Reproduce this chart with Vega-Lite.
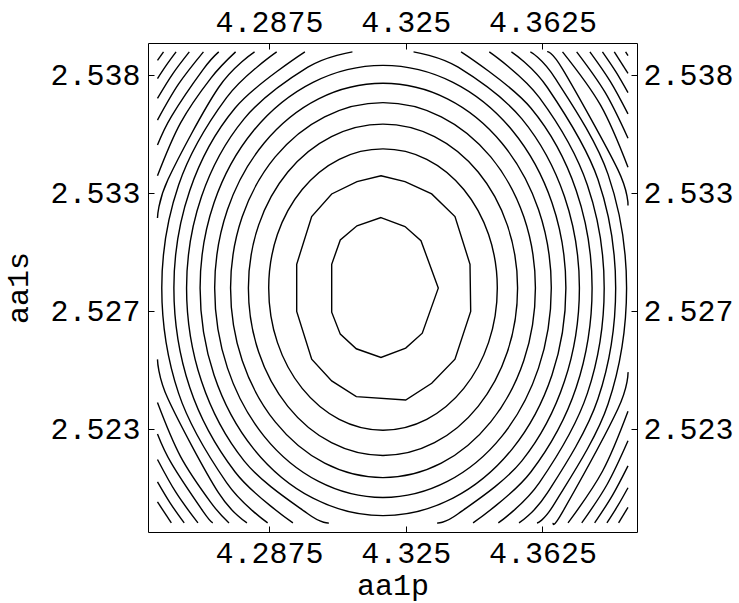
{
  "$schema": "https://vega.github.io/schema/vega-lite/v6.json",
  "width": 489,
  "height": 489,
  "autosize": {"type": "none"},
  "padding": {"left": 148, "top": 43, "right": 102, "bottom": 71},
  "background": "white",
  "config": {
    "view": {"stroke": "black", "strokeWidth": 1},
    "axis": {
      "labelFont": "Liberation Mono",
      "labelFontSize": 30,
      "labelColor": "black",
      "titleFont": "Liberation Mono",
      "titleFontSize": 30,
      "titleFontWeight": "normal",
      "titleColor": "black",
      "tickColor": "black",
      "tickSize": -6,
      "tickWidth": 1,
      "domain": false,
      "grid": false,
      "labelFlush": false,
      "labelOverlap": false
    }
  },
  "datasets": {
    "inner": [
      {"c": "k1", "i": 0, "x": 4.31822, "y": 2.53196},
      {"c": "k1", "i": 1, "x": 4.32481, "y": 2.53158},
      {"c": "k1", "i": 2, "x": 4.32919, "y": 2.53098},
      {"c": "k1", "i": 3, "x": 4.33394, "y": 2.52897},
      {"c": "k1", "i": 4, "x": 4.32955, "y": 2.52706},
      {"c": "k1", "i": 5, "x": 4.32500, "y": 2.52643},
      {"c": "k1", "i": 6, "x": 4.31822, "y": 2.52603},
      {"c": "k1", "i": 7, "x": 4.31145, "y": 2.52640},
      {"c": "k1", "i": 8, "x": 4.30706, "y": 2.52702},
      {"c": "k1", "i": 9, "x": 4.30470, "y": 2.52795},
      {"c": "k1", "i": 10, "x": 4.30470, "y": 2.52998},
      {"c": "k1", "i": 11, "x": 4.30706, "y": 2.53101},
      {"c": "k1", "i": 12, "x": 4.31164, "y": 2.53161},
      {"c": "k2", "i": 0, "x": 4.31822, "y": 2.53373},
      {"c": "k2", "i": 1, "x": 4.32481, "y": 2.53348},
      {"c": "k2", "i": 2, "x": 4.33213, "y": 2.53296},
      {"c": "k2", "i": 3, "x": 4.33852, "y": 2.53200},
      {"c": "k2", "i": 4, "x": 4.34264, "y": 2.52998},
      {"c": "k2", "i": 5, "x": 4.34283, "y": 2.52798},
      {"c": "k2", "i": 6, "x": 4.33852, "y": 2.52596},
      {"c": "k2", "i": 7, "x": 4.33213, "y": 2.52494},
      {"c": "k2", "i": 8, "x": 4.32500, "y": 2.52423},
      {"c": "k2", "i": 9, "x": 4.31145, "y": 2.52437},
      {"c": "k2", "i": 10, "x": 4.30470, "y": 2.52504},
      {"c": "k2", "i": 11, "x": 4.29921, "y": 2.52596},
      {"c": "k2", "i": 12, "x": 4.29510, "y": 2.52798},
      {"c": "k2", "i": 13, "x": 4.29510, "y": 2.52998},
      {"c": "k2", "i": 14, "x": 4.29921, "y": 2.53200},
      {"c": "k2", "i": 15, "x": 4.30470, "y": 2.53296},
      {"c": "k2", "i": 16, "x": 4.31164, "y": 2.53348}
    ],
    "rings": [
      {"c": "k3", "i": 0, "x": 4.35013, "y": 2.52898},
      {"c": "k3", "i": 1, "x": 4.34774, "y": 2.53124},
      {"c": "k3", "i": 2, "x": 4.34094, "y": 2.53315},
      {"c": "k3", "i": 3, "x": 4.33077, "y": 2.53443},
      {"c": "k3", "i": 4, "x": 4.31877, "y": 2.53487},
      {"c": "k3", "i": 5, "x": 4.30677, "y": 2.53443},
      {"c": "k3", "i": 6, "x": 4.29660, "y": 2.53315},
      {"c": "k3", "i": 7, "x": 4.28980, "y": 2.53124},
      {"c": "k3", "i": 8, "x": 4.28742, "y": 2.52898},
      {"c": "k3", "i": 9, "x": 4.28980, "y": 2.52667},
      {"c": "k3", "i": 10, "x": 4.29660, "y": 2.52472},
      {"c": "k3", "i": 11, "x": 4.30677, "y": 2.52341},
      {"c": "k3", "i": 12, "x": 4.31877, "y": 2.52295},
      {"c": "k3", "i": 13, "x": 4.33077, "y": 2.52341},
      {"c": "k3", "i": 14, "x": 4.34094, "y": 2.52472},
      {"c": "k3", "i": 15, "x": 4.34774, "y": 2.52667},
      {"c": "k4", "i": 0, "x": 4.35569, "y": 2.52898},
      {"c": "k4", "i": 1, "x": 4.35288, "y": 2.53164},
      {"c": "k4", "i": 2, "x": 4.34488, "y": 2.53389},
      {"c": "k4", "i": 3, "x": 4.33290, "y": 2.53539},
      {"c": "k4", "i": 4, "x": 4.31877, "y": 2.53592},
      {"c": "k4", "i": 5, "x": 4.30464, "y": 2.53539},
      {"c": "k4", "i": 6, "x": 4.29266, "y": 2.53389},
      {"c": "k4", "i": 7, "x": 4.28466, "y": 2.53164},
      {"c": "k4", "i": 8, "x": 4.28185, "y": 2.52898},
      {"c": "k4", "i": 9, "x": 4.28466, "y": 2.52626},
      {"c": "k4", "i": 10, "x": 4.29266, "y": 2.52396},
      {"c": "k4", "i": 11, "x": 4.30464, "y": 2.52242},
      {"c": "k4", "i": 12, "x": 4.31877, "y": 2.52188},
      {"c": "k4", "i": 13, "x": 4.33290, "y": 2.52242},
      {"c": "k4", "i": 14, "x": 4.34488, "y": 2.52396},
      {"c": "k4", "i": 15, "x": 4.35288, "y": 2.52626},
      {"c": "k5", "i": 0, "x": 4.36058, "y": 2.52898},
      {"c": "k5", "i": 1, "x": 4.35740, "y": 2.53199},
      {"c": "k5", "i": 2, "x": 4.34833, "y": 2.53453},
      {"c": "k5", "i": 3, "x": 4.33477, "y": 2.53623},
      {"c": "k5", "i": 4, "x": 4.31877, "y": 2.53683},
      {"c": "k5", "i": 5, "x": 4.30277, "y": 2.53623},
      {"c": "k5", "i": 6, "x": 4.28921, "y": 2.53453},
      {"c": "k5", "i": 7, "x": 4.28015, "y": 2.53199},
      {"c": "k5", "i": 8, "x": 4.27696, "y": 2.52898},
      {"c": "k5", "i": 9, "x": 4.28015, "y": 2.52590},
      {"c": "k5", "i": 10, "x": 4.28921, "y": 2.52330},
      {"c": "k5", "i": 11, "x": 4.30277, "y": 2.52155},
      {"c": "k5", "i": 12, "x": 4.31877, "y": 2.52094},
      {"c": "k5", "i": 13, "x": 4.33477, "y": 2.52155},
      {"c": "k5", "i": 14, "x": 4.34833, "y": 2.52330},
      {"c": "k5", "i": 15, "x": 4.35740, "y": 2.52590},
      {"c": "k6", "i": 0, "x": 4.36494, "y": 2.52898},
      {"c": "k6", "i": 1, "x": 4.36143, "y": 2.53230},
      {"c": "k6", "i": 2, "x": 4.35142, "y": 2.53511},
      {"c": "k6", "i": 3, "x": 4.33644, "y": 2.53699},
      {"c": "k6", "i": 4, "x": 4.31877, "y": 2.53765},
      {"c": "k6", "i": 5, "x": 4.30110, "y": 2.53699},
      {"c": "k6", "i": 6, "x": 4.28613, "y": 2.53511},
      {"c": "k6", "i": 7, "x": 4.27612, "y": 2.53230},
      {"c": "k6", "i": 8, "x": 4.27260, "y": 2.52898},
      {"c": "k6", "i": 9, "x": 4.27612, "y": 2.52558},
      {"c": "k6", "i": 10, "x": 4.28613, "y": 2.52270},
      {"c": "k6", "i": 11, "x": 4.30110, "y": 2.52078},
      {"c": "k6", "i": 12, "x": 4.31877, "y": 2.52010},
      {"c": "k6", "i": 13, "x": 4.33644, "y": 2.52078},
      {"c": "k6", "i": 14, "x": 4.35142, "y": 2.52270},
      {"c": "k6", "i": 15, "x": 4.36143, "y": 2.52558},
      {"c": "k7", "i": 0, "x": 4.36894, "y": 2.52898},
      {"c": "k7", "i": 1, "x": 4.36513, "y": 2.53259},
      {"c": "k7", "i": 2, "x": 4.35425, "y": 2.53565},
      {"c": "k7", "i": 3, "x": 4.33797, "y": 2.53769},
      {"c": "k7", "i": 4, "x": 4.31877, "y": 2.53841},
      {"c": "k7", "i": 5, "x": 4.29957, "y": 2.53769},
      {"c": "k7", "i": 6, "x": 4.28329, "y": 2.53565},
      {"c": "k7", "i": 7, "x": 4.27242, "y": 2.53259},
      {"c": "k7", "i": 8, "x": 4.26860, "y": 2.52898},
      {"c": "k7", "i": 9, "x": 4.27242, "y": 2.52529},
      {"c": "k7", "i": 10, "x": 4.28329, "y": 2.52216},
      {"c": "k7", "i": 11, "x": 4.29957, "y": 2.52007},
      {"c": "k7", "i": 12, "x": 4.31877, "y": 2.51933},
      {"c": "k7", "i": 13, "x": 4.33797, "y": 2.52007},
      {"c": "k7", "i": 14, "x": 4.35425, "y": 2.52216},
      {"c": "k7", "i": 15, "x": 4.36513, "y": 2.52529}
    ],
    "arcs": [
      {"c": "8R", "i": 0, "x": 4.32715, "y": 2.53898},
      {"c": "8R", "i": 1, "x": 4.33939, "y": 2.53833},
      {"c": "8R", "i": 2, "x": 4.35687, "y": 2.53614},
      {"c": "8R", "i": 3, "x": 4.36855, "y": 2.53285},
      {"c": "8R", "i": 4, "x": 4.37265, "y": 2.52898},
      {"c": "8R", "i": 5, "x": 4.36855, "y": 2.52502},
      {"c": "8R", "i": 6, "x": 4.35687, "y": 2.52165},
      {"c": "8R", "i": 7, "x": 4.33939, "y": 2.51941},
      {"c": "8R", "i": 8, "x": 4.33363, "y": 2.51902},
      {"c": "8L", "i": 0, "x": 4.31039, "y": 2.53898},
      {"c": "8L", "i": 1, "x": 4.29815, "y": 2.53833},
      {"c": "8L", "i": 2, "x": 4.28067, "y": 2.53614},
      {"c": "8L", "i": 3, "x": 4.26899, "y": 2.53285},
      {"c": "8L", "i": 4, "x": 4.26489, "y": 2.52898},
      {"c": "8L", "i": 5, "x": 4.26899, "y": 2.52502},
      {"c": "8L", "i": 6, "x": 4.28067, "y": 2.52165},
      {"c": "8L", "i": 7, "x": 4.29815, "y": 2.51941},
      {"c": "8L", "i": 8, "x": 4.30391, "y": 2.51902},
      {"c": "9R", "i": 0, "x": 4.34019, "y": 2.53898},
      {"c": "9R", "i": 1, "x": 4.35933, "y": 2.53660},
      {"c": "9R", "i": 2, "x": 4.37177, "y": 2.53311},
      {"c": "9R", "i": 3, "x": 4.37613, "y": 2.52898},
      {"c": "9R", "i": 4, "x": 4.37177, "y": 2.52476},
      {"c": "9R", "i": 5, "x": 4.35933, "y": 2.52118},
      {"c": "9R", "i": 6, "x": 4.34348, "y": 2.51902},
      {"c": "9L", "i": 0, "x": 4.29735, "y": 2.53898},
      {"c": "9L", "i": 1, "x": 4.27821, "y": 2.53660},
      {"c": "9L", "i": 2, "x": 4.26577, "y": 2.53311},
      {"c": "9L", "i": 3, "x": 4.26141, "y": 2.52898},
      {"c": "9L", "i": 4, "x": 4.26577, "y": 2.52476},
      {"c": "9L", "i": 5, "x": 4.27821, "y": 2.52118},
      {"c": "9L", "i": 6, "x": 4.29406, "y": 2.51902},
      {"c": "10R", "i": 0, "x": 4.34793, "y": 2.53898},
      {"c": "10R", "i": 1, "x": 4.36168, "y": 2.53704},
      {"c": "10R", "i": 2, "x": 4.37483, "y": 2.53334},
      {"c": "10R", "i": 3, "x": 4.37945, "y": 2.52898},
      {"c": "10R", "i": 4, "x": 4.37483, "y": 2.52451},
      {"c": "10R", "i": 5, "x": 4.36168, "y": 2.52073},
      {"c": "10R", "i": 6, "x": 4.35041, "y": 2.51902},
      {"c": "10L", "i": 0, "x": 4.28961, "y": 2.53898},
      {"c": "10L", "i": 1, "x": 4.27586, "y": 2.53704},
      {"c": "10L", "i": 2, "x": 4.26271, "y": 2.53334},
      {"c": "10L", "i": 3, "x": 4.25809, "y": 2.52898},
      {"c": "10L", "i": 4, "x": 4.26271, "y": 2.52451},
      {"c": "10L", "i": 5, "x": 4.27586, "y": 2.52073},
      {"c": "10L", "i": 6, "x": 4.28713, "y": 2.51902},
      {"c": "11R", "i": 0, "x": 4.35400, "y": 2.53898},
      {"c": "11R", "i": 1, "x": 4.36391, "y": 2.53746},
      {"c": "11R", "i": 2, "x": 4.37775, "y": 2.53357},
      {"c": "11R", "i": 3, "x": 4.38260, "y": 2.52898},
      {"c": "11R", "i": 4, "x": 4.37775, "y": 2.52428},
      {"c": "11R", "i": 5, "x": 4.36391, "y": 2.52030},
      {"c": "11R", "i": 6, "x": 4.35609, "y": 2.51902},
      {"c": "11TL", "i": 0, "x": 4.28354, "y": 2.53898},
      {"c": "11TL", "i": 1, "x": 4.27363, "y": 2.53746},
      {"c": "11TL", "i": 2, "x": 4.25979, "y": 2.53357},
      {"c": "11TL", "i": 3, "x": 4.25691, "y": 2.53194},
      {"c": "11BL", "i": 0, "x": 4.25691, "y": 2.52595},
      {"c": "11BL", "i": 1, "x": 4.25979, "y": 2.52428},
      {"c": "11BL", "i": 2, "x": 4.27363, "y": 2.52030},
      {"c": "11BL", "i": 3, "x": 4.28145, "y": 2.51902},
      {"c": "12R", "i": 0, "x": 4.35920, "y": 2.53898},
      {"c": "12R", "i": 1, "x": 4.36602, "y": 2.53786},
      {"c": "12R", "i": 2, "x": 4.38051, "y": 2.53379},
      {"c": "12R", "i": 3, "x": 4.38559, "y": 2.52898},
      {"c": "12R", "i": 4, "x": 4.38051, "y": 2.52406},
      {"c": "12R", "i": 5, "x": 4.36602, "y": 2.51989},
      {"c": "12R", "i": 6, "x": 4.36101, "y": 2.51902},
      {"c": "12TL", "i": 0, "x": 4.27834, "y": 2.53898},
      {"c": "12TL", "i": 1, "x": 4.27152, "y": 2.53786},
      {"c": "12TL", "i": 2, "x": 4.26321, "y": 2.53596},
      {"c": "12TL", "i": 3, "x": 4.25691, "y": 2.53373},
      {"c": "12BL", "i": 0, "x": 4.25691, "y": 2.52412},
      {"c": "12BL", "i": 1, "x": 4.26321, "y": 2.52184},
      {"c": "12BL", "i": 2, "x": 4.27152, "y": 2.51989},
      {"c": "12BL", "i": 3, "x": 4.27653, "y": 2.51902},
      {"c": "13TR", "i": 0, "x": 4.36383, "y": 2.53898},
      {"c": "13TR", "i": 1, "x": 4.36808, "y": 2.53824},
      {"c": "13TR", "i": 2, "x": 4.38320, "y": 2.53399},
      {"c": "13TR", "i": 3, "x": 4.38598, "y": 2.53247},
      {"c": "13BR", "i": 0, "x": 4.38598, "y": 2.52541},
      {"c": "13BR", "i": 1, "x": 4.38320, "y": 2.52385},
      {"c": "13BR", "i": 2, "x": 4.36808, "y": 2.51950},
      {"c": "13BR", "i": 3, "x": 4.36546, "y": 2.51902},
      {"c": "13TL", "i": 0, "x": 4.27372, "y": 2.53898},
      {"c": "13TL", "i": 1, "x": 4.26946, "y": 2.53824},
      {"c": "13TL", "i": 2, "x": 4.26079, "y": 2.53626},
      {"c": "13TL", "i": 3, "x": 4.25691, "y": 2.53503},
      {"c": "13BL", "i": 0, "x": 4.25691, "y": 2.52279},
      {"c": "13BL", "i": 1, "x": 4.26079, "y": 2.52153},
      {"c": "13BL", "i": 2, "x": 4.26946, "y": 2.51950},
      {"c": "13BL", "i": 3, "x": 4.27208, "y": 2.51902},
      {"c": "14TR", "i": 0, "x": 4.36802, "y": 2.53898},
      {"c": "14TR", "i": 1, "x": 4.37845, "y": 2.53672},
      {"c": "14TR", "i": 2, "x": 4.38598, "y": 2.53409},
      {"c": "14BR", "i": 0, "x": 4.38598, "y": 2.52375},
      {"c": "14BR", "i": 1, "x": 4.37902, "y": 2.52122},
      {"c": "14BR", "i": 2, "x": 4.36953, "y": 2.51902},
      {"c": "14TL", "i": 0, "x": 4.26952, "y": 2.53898},
      {"c": "14TL", "i": 1, "x": 4.26267, "y": 2.53761},
      {"c": "14TL", "i": 2, "x": 4.25691, "y": 2.53609},
      {"c": "14BL", "i": 0, "x": 4.25691, "y": 2.52171},
      {"c": "14BL", "i": 1, "x": 4.26203, "y": 2.52030},
      {"c": "14BL", "i": 2, "x": 4.26801, "y": 2.51902},
      {"c": "15TR", "i": 0, "x": 4.37190, "y": 2.53898},
      {"c": "15TR", "i": 1, "x": 4.37971, "y": 2.53726},
      {"c": "15TR", "i": 2, "x": 4.38598, "y": 2.53532},
      {"c": "15BR", "i": 0, "x": 4.38598, "y": 2.52250},
      {"c": "15BR", "i": 1, "x": 4.38028, "y": 2.52066},
      {"c": "15BR", "i": 2, "x": 4.37330, "y": 2.51902},
      {"c": "15TL", "i": 0, "x": 4.26564, "y": 2.53898},
      {"c": "15TL", "i": 1, "x": 4.26105, "y": 2.53804},
      {"c": "15TL", "i": 2, "x": 4.25691, "y": 2.53701},
      {"c": "15BL", "i": 0, "x": 4.25691, "y": 2.52076},
      {"c": "15BL", "i": 1, "x": 4.26041, "y": 2.51986},
      {"c": "15BL", "i": 2, "x": 4.26424, "y": 2.51902},
      {"c": "16TR", "i": 0, "x": 4.37553, "y": 2.53898},
      {"c": "16TR", "i": 1, "x": 4.38115, "y": 2.53772},
      {"c": "16TR", "i": 2, "x": 4.38598, "y": 2.53635},
      {"c": "16BR", "i": 0, "x": 4.38598, "y": 2.52144},
      {"c": "16BR", "i": 1, "x": 4.38171, "y": 2.52019},
      {"c": "16BR", "i": 2, "x": 4.37683, "y": 2.51902},
      {"c": "16TL", "i": 0, "x": 4.26201, "y": 2.53898},
      {"c": "16TL", "i": 1, "x": 4.25940, "y": 2.53843},
      {"c": "16TL", "i": 2, "x": 4.25691, "y": 2.53785},
      {"c": "16BL", "i": 0, "x": 4.25691, "y": 2.51991},
      {"c": "16BL", "i": 1, "x": 4.26071, "y": 2.51902},
      {"c": "17TR", "i": 0, "x": 4.37897, "y": 2.53898},
      {"c": "17TR", "i": 1, "x": 4.38263, "y": 2.53814},
      {"c": "17TR", "i": 2, "x": 4.38598, "y": 2.53725},
      {"c": "17BR", "i": 0, "x": 4.38598, "y": 2.52051},
      {"c": "17BR", "i": 1, "x": 4.38319, "y": 2.51975},
      {"c": "17BR", "i": 2, "x": 4.38020, "y": 2.51902},
      {"c": "17TL", "i": 0, "x": 4.25857, "y": 2.53898},
      {"c": "17TL", "i": 1, "x": 4.25691, "y": 2.53862},
      {"c": "18TR", "i": 0, "x": 4.38222, "y": 2.53898},
      {"c": "18TR", "i": 1, "x": 4.38598, "y": 2.53807},
      {"c": "18BR", "i": 0, "x": 4.38598, "y": 2.51968},
      {"c": "18BR", "i": 1, "x": 4.38340, "y": 2.51902},
      {"c": "19TR", "i": 0, "x": 4.38532, "y": 2.53898},
      {"c": "19TR", "i": 1, "x": 4.38598, "y": 2.53882}
    ]
  },
  "resolve": {"axis": {"x": "independent", "y": "independent"}},
  "layer": [
    {
      "data": {"name": "inner"},
      "mark": {"type": "line", "interpolate": "linear-closed", "stroke": "black", "strokeWidth": 1.4},
      "encoding": {
        "x": {
          "field": "x", "type": "quantitative",
          "scale": {"domain": [4.25431, 4.38845], "nice": false, "zero": false},
          "axis": {"orient": "bottom", "title": "aa1p", "values": [4.2875, 4.325, 4.3625],
                   "labelExpr": "'' + datum.value", "labelPadding": 12, "titlePadding": 2}
        },
        "y": {
          "field": "y", "type": "quantitative",
          "scale": {"domain": [2.518636, 2.539356], "nice": false, "zero": false},
          "axis": {"orient": "left", "title": "aa1s", "values": [2.523, 2.528, 2.533, 2.538],
                   "labelExpr": "datum.value < 2.525 ? '2.523' : datum.value < 2.530 ? '2.527' : datum.value < 2.535 ? '2.533' : '2.538'",
                   "labelPadding": 14, "titlePadding": 16}
        },
        "detail": {"field": "c", "type": "nominal"},
        "order": {"field": "i", "type": "quantitative"}
      }
    },
    {
      "data": {"name": "rings"},
      "mark": {"type": "line", "interpolate": "cardinal-closed", "stroke": "black", "strokeWidth": 1.4},
      "encoding": {
        "x": {"field": "x", "type": "quantitative", "axis": null},
        "y": {"field": "y", "type": "quantitative", "axis": null},
        "detail": {"field": "c", "type": "nominal"},
        "order": {"field": "i", "type": "quantitative"}
      }
    },
    {
      "data": {"name": "arcs"},
      "mark": {"type": "line", "interpolate": "cardinal", "stroke": "black", "strokeWidth": 1.4},
      "encoding": {
        "x": {
          "field": "x", "type": "quantitative",
          "axis": {"orient": "top", "title": null, "values": [4.2875, 4.325, 4.3625],
                   "labelExpr": "'' + datum.value", "labelPadding": 12}
        },
        "y": {
          "field": "y", "type": "quantitative",
          "axis": {"orient": "right", "title": null, "values": [2.523, 2.528, 2.533, 2.538],
                   "labelExpr": "datum.value < 2.525 ? '2.523' : datum.value < 2.530 ? '2.527' : datum.value < 2.535 ? '2.533' : '2.538'",
                   "labelPadding": 12}
        },
        "detail": {"field": "c", "type": "nominal"},
        "order": {"field": "i", "type": "quantitative"}
      }
    }
  ]
}
